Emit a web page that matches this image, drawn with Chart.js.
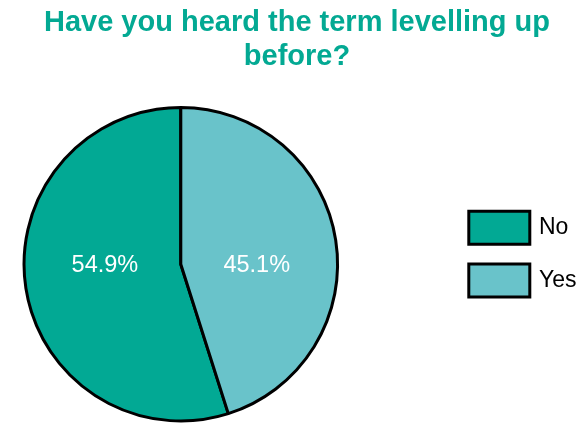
<!DOCTYPE html>
<html>
<head>
<meta charset="utf-8">
<script src="https://cdn.jsdelivr.net/npm/chart.js@4.4.1/dist/chart.umd.min.js"></script>
<style>
  html, body { margin: 0; padding: 0; background: #ffffff; overflow: hidden; }
  #wrap { width: 579px; height: 423px; }
</style>
</head>
<body>
<div id="wrap"><canvas id="chart" width="579" height="423"></canvas></div>
<script>
// Survey answers
const answers = ['No', 'Yes'];
const shares = [54.9, 45.1];          // percent of respondents
const sliceColors = ['#02a994', '#69c3ca'];
const titleLines = ['Have you heard the term levelling up', 'before?'];

const TEAL = '#03a993';
const FONT = '"Liberation Sans", Arial, Helvetica, sans-serif';

// Right-hand legend: reserves a column beside the pie and draws one
// swatch + label per answer, taken from the chart's own data.
const sideLegend = {
  id: 'sideLegend',
  beforeInit(chart) {
    const box = {
      position: 'right',
      weight: 1000,
      fullSize: false,
      options: {},
      left: 0, top: 0, right: 0, bottom: 0, width: 0, height: 0,
      isHorizontal() { return false; },
      update(maxWidth, maxHeight) {
        this.width = 232.4;
        this.height = maxHeight;
      },
      draw() {
        const ctx = chart.ctx;
        const ds = chart.data.datasets[0];
        const swW = 61, swH = 33, rowGap = 52.7;
        const x0 = this.left + 122.2;
        const midY = (this.top + this.bottom) / 2;
        const y0 = midY - 53;
        ctx.save();
        chart.data.labels.forEach((lbl, i) => {
          const y = y0 + i * rowGap;
          ctx.beginPath();
          ctx.rect(x0, y, swW, swH);
          ctx.fillStyle = ds.backgroundColor[i];
          ctx.fill();
          ctx.lineWidth = ds.borderWidth;
          ctx.strokeStyle = ds.borderColor;
          ctx.stroke();
          ctx.fillStyle = '#000000';
          ctx.font = '23px ' + FONT;
          ctx.textAlign = 'left';
          ctx.textBaseline = 'middle';
          ctx.fillText(lbl, x0 + swW + 9.2, y + swH / 2);
        });
        ctx.restore();
      }
    };
    Chart.layouts.addBox(chart, box);
  }
};

// Percentage written inside each slice, level with the pie centre.
const sliceLabels = {
  id: 'sliceLabels',
  afterDatasetsDraw(chart) {
    const ctx = chart.ctx;
    const meta = chart.getDatasetMeta(0);
    const values = chart.data.datasets[0].data;
    ctx.save();
    ctx.fillStyle = '#ffffff';
    ctx.font = '23.5px ' + FONT;
    ctx.textAlign = 'center';
    ctx.textBaseline = 'middle';
    meta.data.forEach((arc, i) => {
      const p = arc.getProps(['x', 'y', 'startAngle', 'endAngle', 'outerRadius'], true);
      const mid = (p.startAngle + p.endAngle) / 2;
      const x = p.x + Math.cos(mid) * p.outerRadius * 0.49;
      ctx.fillText(values[i].toFixed(1) + '%', x, p.y + 1);
    });
    ctx.restore();
  }
};

const total = shares.reduce((a, b) => a + b, 0);

new Chart(document.getElementById('chart'), {
  type: 'pie',
  data: {
    labels: answers,
    datasets: [{
      data: shares,
      backgroundColor: sliceColors,
      borderColor: '#000000',
      borderWidth: 3
    }]
  },
  options: {
    responsive: false,
    animation: false,
    // "Yes" begins at twelve o'clock and runs clockwise; "No" fills the rest
    rotation: shares[1] / total * 360,
    layout: { padding: { left: 15, right: 0, top: 0, bottom: 0.5 } },
    plugins: {
      legend: { display: false },
      tooltip: { enabled: false },
      title: {
        display: true,
        text: titleLines,
        color: TEAL,
        font: { family: FONT, size: 29, weight: 'bold', lineHeight: 1.17 },
        padding: { top: 6.4, bottom: 31.7 }
      }
    }
  },
  plugins: [sideLegend, sliceLabels]
});
</script>
</body>
</html>
